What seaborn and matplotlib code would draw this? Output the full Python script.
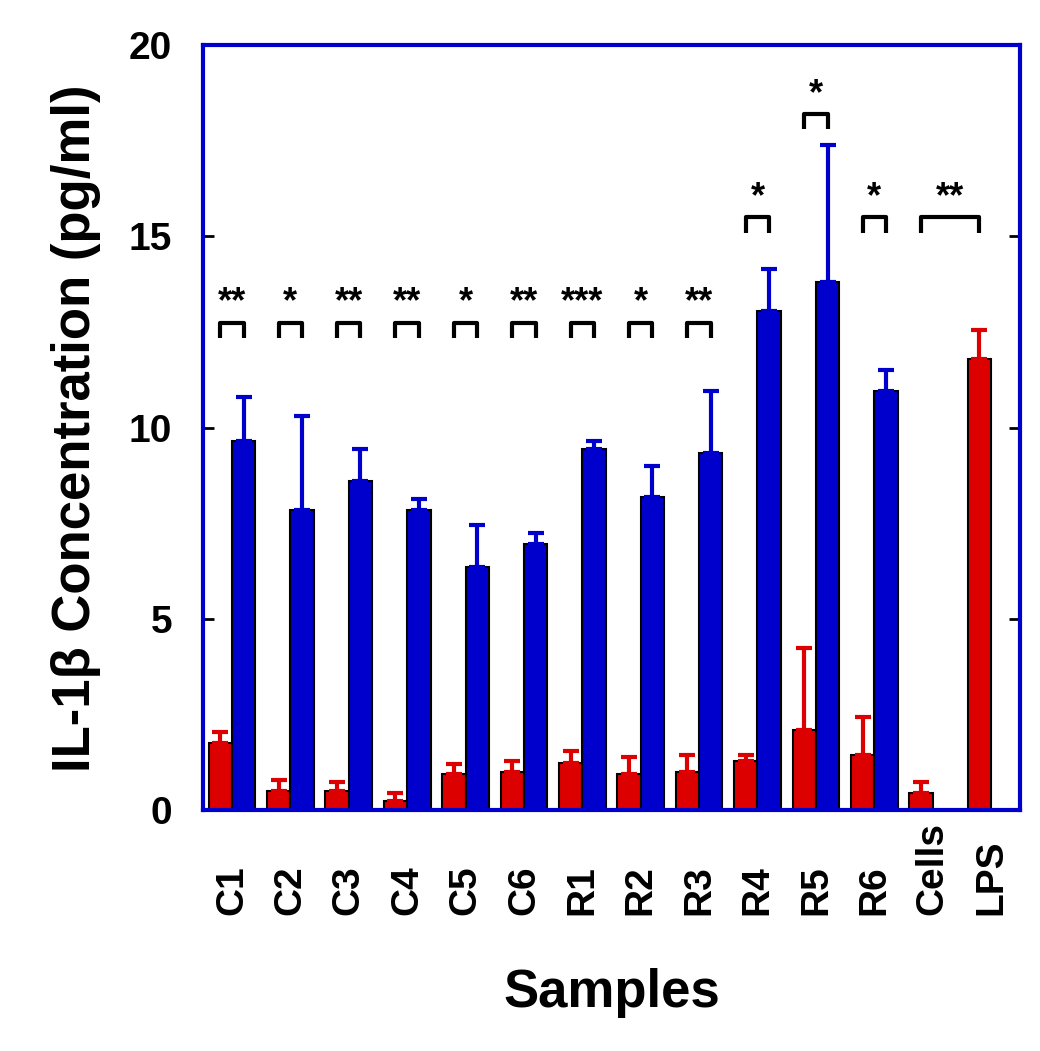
import numpy as np
import pandas as pd
import seaborn as sns
import matplotlib
matplotlib.use("Agg")
import matplotlib.pyplot as plt

samples = ["C1","C2","C3","C4","C5","C6","R1","R2","R3","R4","R5","R6","Cells","LPS"]
red_vals = [1.75,0.5,0.5,0.25,0.95,1.0,1.25,0.95,1.0,1.3,2.1,1.45,0.45,11.8]
red_err  = [0.3,0.3,0.25,0.2,0.25,0.3,0.3,0.45,0.45,0.15,2.15,1.0,0.3,0.75]
blue_vals = [9.65,7.85,8.6,7.85,6.35,6.95,9.45,8.2,9.35,13.05,13.8,10.95,np.nan,np.nan]
blue_err  = [1.15,2.45,0.85,0.3,1.1,0.3,0.2,0.8,1.6,1.1,3.6,0.55,np.nan,np.nan]
sig_labels = ["**","*","**","**","*","**","***","*","**","*","*","*"]
sig_heights = [12.75]*9 + [15.5,18.2,15.5]
lps_label, lps_height = "**", 15.5

sns.set_theme(style="white")
plt.rcParams['font.family'] = ['Liberation Sans', 'DejaVu Sans']
plt.rcParams['font.weight'] = 'bold'
plt.rcParams['text.color'] = 'black'

df = pd.DataFrame({
    "Sample": samples*2,
    "Value": red_vals + blue_vals,
    "Group": ["red"]*len(samples) + ["blue"]*len(samples),
})

fig = plt.figure(figsize=(10.4, 10.51), dpi=100)
ax = fig.add_axes([0.195, 0.229, 0.786, 0.728])
sns.barplot(data=df, x="Sample", y="Value", hue="Group", order=samples,
            hue_order=["red","blue"], palette={"red":"#dd0000","blue":"#0000cc"},
            saturation=1, edgecolor="black", linewidth=1.5, width=0.8,
            legend=False, ax=ax, errorbar=None)

n = len(samples)
xr = np.arange(n) - 0.2
xb = np.arange(n) + 0.2
ax.errorbar(xr, red_vals, yerr=[np.zeros(n), red_err], fmt="none",
            ecolor="#dd0000", elinewidth=3, capsize=6, capthick=3, zorder=1)
ax.errorbar(xb, blue_vals, yerr=[np.zeros(n), blue_err], fmt="none",
            ecolor="#0000cc", elinewidth=3, capsize=6, capthick=3, zorder=1)

def bracket(x1, x2, y, label):
    ax.plot([x1, x1, x2, x2], [y-0.4, y, y, y-0.4], color="black", lw=3,
            solid_capstyle="butt", clip_on=False)
    ax.text((x1+x2)/2, y+0.05, label, ha="center", va="bottom",
            fontsize=26, fontweight="bold", color="black")

for i, (lab, h) in enumerate(zip(sig_labels, sig_heights)):
    bracket(xr[i], xb[i], h, lab)
bracket(xr[12], xr[13], lps_height, lps_label)

ax.set_xlim(-0.5, n-0.5)
ax.set_ylim(0, 20)
ax.set_yticks([0,5,10,15,20])
ax.tick_params(axis="y", direction="in", length=8, width=2, right=True,
               labelsize=28, labelcolor="black", color="black", left=True, pad=22)
ax.set_xticks(np.arange(n))
ax.set_xticklabels([])
ax.tick_params(axis="x", length=0)
trans = matplotlib.transforms.blended_transform_factory(ax.transData, ax.transAxes)
for i, s in enumerate(samples):
    ax.text(i, -0.137, s, rotation=90, ha="center", va="bottom", fontsize=28,
            fontweight="bold", color="black", transform=trans)
for lab in ax.get_yticklabels():
    lab.set_fontweight("bold")
for s in ax.spines.values():
    s.set_color("#0000cc")
    s.set_linewidth(3)
ax.set_xlabel("Samples", fontsize=38, fontweight="bold", labelpad=110, color="black")
ax.set_ylabel("IL-1β Concentration (pg/ml)", fontsize=38, fontweight="bold",
              labelpad=20, color="black")
fig.savefig("out.png", dpi=100)
